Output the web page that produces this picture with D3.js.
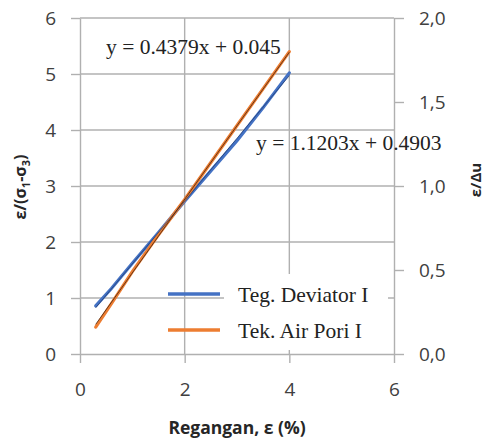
<!DOCTYPE html>
<html>
<head>
<meta charset="utf-8">
<script src="https://cdn.jsdelivr.net/npm/d3@7"></script>
<style>
  body { margin: 0; background: #fff; }
  svg { display: block; }
</style>
</head>
<body>
<script>
// strain (%) readings
var regangan = [0.3, 0.6, 1.0, 1.5, 2.0, 2.5, 3.0, 3.5, 4.0];
// ε/(σ1-σ3), left axis
var tegDeviator = [0.86, 1.17, 1.62, 2.17, 2.73, 3.27, 3.81, 4.40, 5.02];
// ε/Δu, right axis
var tekAirPori = [0.16, 0.30, 0.49, 0.71, 0.92, 1.14, 1.36, 1.58, 1.80];

// trendline coefficients [slope, intercept]
var trendDeviator = [1.1203, 0.4903];
var trendAirPori = [0.4379, 0.045];
var trendRange = [0.3, 4.0];

var xTicks = [0, 2, 4, 6];
var yLeftTicks = [0, 1, 2, 3, 4, 5, 6];
var yRightTicks = [0, 0.5, 1.0, 1.5, 2.0];

var width = 486, height = 441;
var plotLeft = 80, plotRight = 394, plotTop = 18, plotBottom = 354;

var svg = d3.select("body").append("svg")
    .attr("width", width)
    .attr("height", height);

var x = d3.scaleLinear().domain([0, 6]).range([plotLeft, plotRight]);
var yL = d3.scaleLinear().domain([0, 6]).range([plotBottom, plotTop]);
var yR = d3.scaleLinear().domain([0, 2]).range([plotBottom, plotTop]);

var gridColor = "#b0b0b0";

// gridlines
svg.append("g").selectAll("line")
    .data(yLeftTicks.slice(1))
    .enter().append("line")
    .attr("x1", plotLeft).attr("x2", plotRight)
    .attr("y1", d => yL(d)).attr("y2", d => yL(d))
    .attr("stroke", gridColor).attr("stroke-width", 1.4);

svg.append("g").selectAll("line")
    .data(xTicks.slice(1, 3))
    .enter().append("line")
    .attr("x1", d => x(d)).attr("x2", d => x(d))
    .attr("y1", plotTop).attr("y2", plotBottom)
    .attr("stroke", gridColor).attr("stroke-width", 1.4);

function styleAxis(g) {
    g.select(".domain").attr("stroke", gridColor).attr("stroke-width", 1.4);
    g.selectAll(".tick line").attr("stroke", gridColor).attr("stroke-width", 1.4);
    g.selectAll(".tick text")
        .attr("fill", "#404040")
        .attr("font-family", "'Open Sans', sans-serif")
        .attr("font-size", "19px");
}

svg.append("g")
    .attr("transform", "translate(" + plotLeft + ",0)")
    .call(d3.axisLeft(yL).tickValues(yLeftTicks).tickFormat(d3.format("d"))
        .tickSize(9).tickSizeOuter(0).tickPadding(15))
    .call(styleAxis);

svg.append("g")
    .attr("transform", "translate(" + plotRight + ",0)")
    .call(d3.axisRight(yR).tickValues(yRightTicks).tickSize(10).tickSizeOuter(0).tickPadding(15)
        .tickFormat(d => d3.format(".1f")(d).replace(".", ",")))
    .call(styleAxis);

svg.append("g")
    .attr("transform", "translate(0," + plotBottom + ")")
    .call(d3.axisBottom(x).tickValues(xTicks).tickFormat(d3.format("d"))
        .tickSize(9).tickSizeOuter(0).tickPadding(20))
    .call(styleAxis);

// legend background hides gridlines behind the text
svg.append("rect")
    .attr("x", 224).attr("y", 274)
    .attr("width", 164).attr("height", 76)
    .attr("fill", "#fff");

// series
var blue = "#4472c4", orange = "#ed7d31";

var lineL = d3.line()
    .x((d, i) => x(regangan[i]))
    .y(d => yL(d));
var lineR = d3.line()
    .x((d, i) => x(regangan[i]))
    .y(d => yR(d));

svg.append("path")
    .datum(tegDeviator)
    .attr("d", lineL)
    .attr("fill", "none")
    .attr("stroke", blue)
    .attr("stroke-width", 3.2)
    .attr("stroke-linecap", "round");

svg.append("path")
    .datum(tekAirPori)
    .attr("d", lineR)
    .attr("fill", "none")
    .attr("stroke", orange)
    .attr("stroke-width", 3.2)
    .attr("stroke-linecap", "round");

// linear trendlines
svg.append("line")
    .attr("x1", x(trendRange[0])).attr("y1", yL(trendDeviator[0] * trendRange[0] + trendDeviator[1]))
    .attr("x2", x(trendRange[1])).attr("y2", yL(trendDeviator[0] * trendRange[1] + trendDeviator[1]))
    .attr("stroke", "#1f3a6e").attr("stroke-width", 1).attr("opacity", 0.7);

svg.append("line")
    .attr("x1", x(trendRange[0])).attr("y1", yR(trendAirPori[0] * trendRange[0] + trendAirPori[1]))
    .attr("x2", x(trendRange[1])).attr("y2", yR(trendAirPori[0] * trendRange[1] + trendAirPori[1]))
    .attr("stroke", "#3a2010").attr("stroke-width", 1).attr("opacity", 0.75);

// trendline equations
var serif = "'Liberation Serif', 'Times New Roman', serif";
svg.append("text")
    .attr("x", 106).attr("y", 54)
    .attr("font-family", serif).attr("font-size", "21.5px").attr("fill", "#222")
    .text("y = " + trendAirPori[0] + "x + " + trendAirPori[1]);

svg.append("text")
    .attr("x", 256).attr("y", 150)
    .attr("font-family", serif).attr("font-size", "21.5px").attr("fill", "#222")
    .text("y = " + trendDeviator[0] + "x + " + trendDeviator[1]);

// legend
var legend = [
    {name: "Teg. Deviator I", color: blue, y: 294},
    {name: "Tek. Air Pori I", color: orange, y: 330}
];
var lg = svg.append("g").selectAll("g").data(legend).enter().append("g");
lg.append("line")
    .attr("x1", 168).attr("x2", 220)
    .attr("y1", d => d.y).attr("y2", d => d.y)
    .attr("stroke", d => d.color).attr("stroke-width", 3.5);
lg.append("text")
    .attr("x", 238).attr("y", d => d.y + 8)
    .attr("font-family", serif).attr("font-size", "21.5px").attr("fill", "#222")
    .text(d => d.name);

// axis titles
var sansBold = "'Open Sans', sans-serif";
svg.append("text")
    .attr("x", 237).attr("y", 434)
    .attr("text-anchor", "middle")
    .attr("font-family", sansBold).attr("font-weight", "bold").attr("font-size", "17.5px")
    .attr("fill", "#262626")
    .text("Regangan, ε (%)");

var tl = svg.append("text")
    .attr("transform", "translate(26,187)rotate(-90)")
    .attr("text-anchor", "middle")
    .attr("font-family", sansBold).attr("font-weight", "bold").attr("font-size", "16px")
    .attr("fill", "#262626");
tl.append("tspan").text("ε/(σ");
tl.append("tspan").attr("font-size", "11px").attr("dy", 4).text("1");
tl.append("tspan").attr("dy", -4).text("-σ");
tl.append("tspan").attr("font-size", "11px").attr("dy", 4).text("3");
tl.append("tspan").attr("dy", -4).text(")");

svg.append("text")
    .attr("transform", "translate(481,180)rotate(-90)")
    .attr("text-anchor", "middle")
    .attr("font-family", sansBold).attr("font-weight", "bold").attr("font-size", "15px")
    .attr("fill", "#262626")
    .text("ε/Δu");
</script>
</body>
</html>
